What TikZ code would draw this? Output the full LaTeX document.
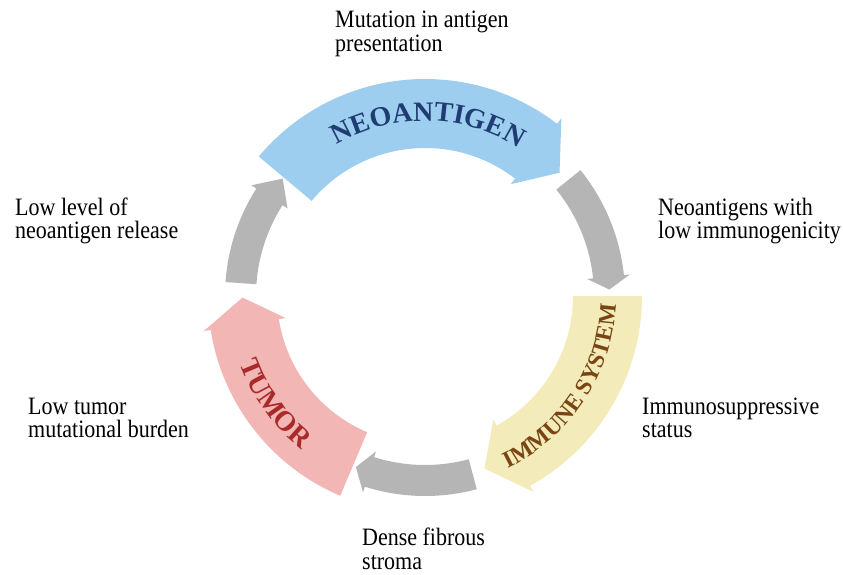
\documentclass[tikz,border=0pt]{standalone}
\usepackage{fontspec}
\setmainfont{Liberation Serif}
\newfontfamily\lblfont{Liberation Serif}[FakeStretch=0.88]
\usetikzlibrary{decorations.text}
\definecolor{neoblue}{HTML}{9DCDEF}
\definecolor{neotext}{HTML}{1F3D73}
\definecolor{immyellow}{HTML}{F3ECBA}
\definecolor{immtext}{HTML}{7A4515}
\definecolor{tumpink}{HTML}{F2B6B4}
\definecolor{tumtext}{HTML}{A82A2A}
\definecolor{cyclegray}{HTML}{B5B5B5}

\begin{document}
\begin{tikzpicture}[x=1pt,y=1pt,
		lbl/.style={anchor=base west, align=left, inner sep=0pt, font=\lblfont\fontsize{25}{23.3}\selectfont}]
		\useasboundingbox (0,0) rectangle (843,574);
		
		\begin{scope}[shift={(425,278)}]
		\foreach \a/\b/\t/\c in {140/52.5/42.5/neoblue, 0/-61/-71/immyellow, 247/189/180.5/tumpink}
			\fill[\c] (\a:217pt) arc (\a:\b:217pt) -- (\b:224pt) -- (\t:182.5pt) -- (\b:141pt) -- (\b:148pt) arc (\b:\a:148pt) -- cycle;
		
		\foreach \a/\b/\t in {39/6/2, -75/-107.5/-112, 176/147.5/140.5}
			\fill[cyclegray] (\a:200pt) arc (\a:\b:200pt) -- (\b:206pt) -- (\t:184.5pt) -- (\b:163pt) -- (\b:169pt) arc (\b:\a:169pt) -- cycle;
		
		\path[decorate, decoration={text along path, text align=center,
			text={|\fontsize{28}{28}\selectfont\bfseries\color{neotext}|NEOANTIGEN}}] (149:175pt) arc (149:29:175pt);
		\path[decorate, decoration={text along path, text align=center,
			text={|\fontsize{23.5}{23.5}\selectfont\bfseries\color{immtext}|IMMUNE SYSTEM}}] (-93.5:191pt) arc (-93.5:26.5:191pt);
		\path[decorate, decoration={text along path, text align=center,
			text={|\fontsize{28}{28}\selectfont\bfseries\color{tumtext}|TUMOR}}] (155.5:197pt) arc (155.5:275.5:197pt);
		\end{scope}
		
		\node[lbl] (mutation) at (335,522.7) {Mutation in antigen\\presentation};
		\node[lbl] (lowimmuno) at (658,335.7) {Neoantigens with\\low immunogenicity};
		\node[lbl] (suppress) at (642,136.7) {Immunosuppressive\\status};
		\node[lbl] (stroma) at (362,5) {Dense fibrous\\stroma};
		\node[lbl] (burden) at (28,136.7) {Low tumor\\mutational burden};
		\node[lbl] (release) at (15,335.7) {Low level of\\neoantigen release};
	\end{tikzpicture}
\end{document}
